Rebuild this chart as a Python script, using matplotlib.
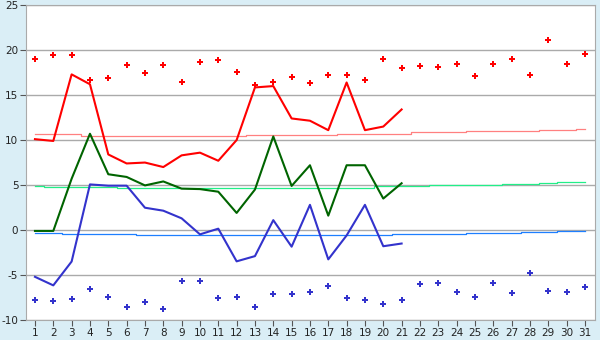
import numpy as np
import matplotlib
matplotlib.use('Agg')
import matplotlib.pyplot as plt

days = np.arange(1, 32)
obs_days = np.arange(1, 22)

# observed daily max / mean / min (first 21 days)
obs_max = [10.1, 9.9, 17.3, 16.2, 8.4, 7.4, 7.5, 7.0, 8.3, 8.6, 7.7, 10.0,
           15.85, 16.0, 12.4, 12.15, 11.1, 16.4, 11.1, 11.5, 13.4]
obs_mean = [-0.1, -0.1, 5.7, 10.7, 6.2, 5.9, 4.96, 5.4, 4.6, 4.55, 4.26, 1.9,
            4.5, 10.4, 4.9, 7.2, 1.6, 7.2, 7.2, 3.5, 5.2]
obs_min = [-5.2, -6.15, -3.5, 5.07, 4.93, 4.93, 2.48, 2.15, 1.3, -0.48, 0.15,
           -3.48, -2.9, 1.1, -1.85, 2.8, -3.26, -0.6, 2.8, -1.8, -1.5]

# record highs / lows per day
rec_max = [18.96, 19.4, 19.5, 16.7, 16.85, 18.3, 17.5, 18.3, 16.4, 18.7, 18.85,
           17.6, 16.15, 16.5, 16.96, 16.3, 17.2, 17.2, 16.7, 18.96, 17.96, 18.2,
           18.1, 18.5, 17.1, 18.4, 18.96, 17.2, 21.1, 18.5, 19.6]
rec_min = [-7.8, -7.9, -7.7, -6.6, -7.4, -8.5, -8.0, -8.8, -5.7, -5.7, -7.6,
           -7.45, -8.6, -7.15, -7.15, -6.9, -6.26, -7.6, -7.8, -8.26, -7.8, -6.04,
           -5.93, -6.9, -7.48, -5.93, -7.04, -4.8, -6.8, -6.9, -6.37]

# normals per day
norm_max = [10.63] * 3 + [10.5] * 9 + [10.6] * 5 + [10.72] * 4 + [10.85] * 3 \
    + [10.96] * 4 + [11.07] * 2 + [11.2]
norm_mean = [4.93] + [4.74] * 4 + [4.62] * 9 + [4.67] * 5 + [4.85] * 3 \
    + [4.96] * 4 + [5.07] * 2 + [5.19] + [5.3] * 2
norm_min = [-0.37] * 2 + [-0.48] * 4 + [-0.59] * 14 + [-0.48] * 4 \
    + [-0.37] * 3 + [-0.26] * 2 + [-0.11] * 2

plt.rcParams['font.family'] = 'DejaVu Sans'
plt.rcParams['axes.unicode_minus'] = False

fig = plt.figure(figsize=(6, 3.4), dpi=100, facecolor='#daeef6')
ax = fig.add_axes([0.0433, 0.0588, 0.9484, 0.9262])
ax.set_facecolor('white')

ax.step(days, norm_max, where='mid', color='#ff8080', lw=0.9)
ax.step(days, norm_mean, where='mid', color='#22ee88', lw=0.9)
ax.step(days, norm_min, where='mid', color='#1e7fff', lw=0.9)

ax.plot(obs_days, obs_max, color='#ff0000', lw=1.5)
ax.plot(obs_days, obs_mean, color='#006400', lw=1.5)
ax.plot(obs_days, obs_min, color='#3333cc', lw=1.5)

ax.plot(days, rec_max, 'P', color='#ff0000', ms=4.5, mew=0, ls='none')
ax.plot(days, rec_min, 'P', color='#3333cc', ms=4.5, mew=0, ls='none')

ax.set_xlim(0.51, 31.55)
ax.set_ylim(-10, 25)
ax.set_xticks(days)
ax.set_yticks(np.arange(-10, 26, 5))
ax.yaxis.grid(True, color='#aaaaaa', lw=1)
ax.set_axisbelow(True)
for s in ax.spines.values():
    s.set_color('#aaaaaa')
ax.tick_params(labelsize=7.5, labelcolor='#222222', color='#555555',
               length=4, width=0.8, pad=1.5)

fig.savefig('out.png', dpi=100, facecolor=fig.get_facecolor())
